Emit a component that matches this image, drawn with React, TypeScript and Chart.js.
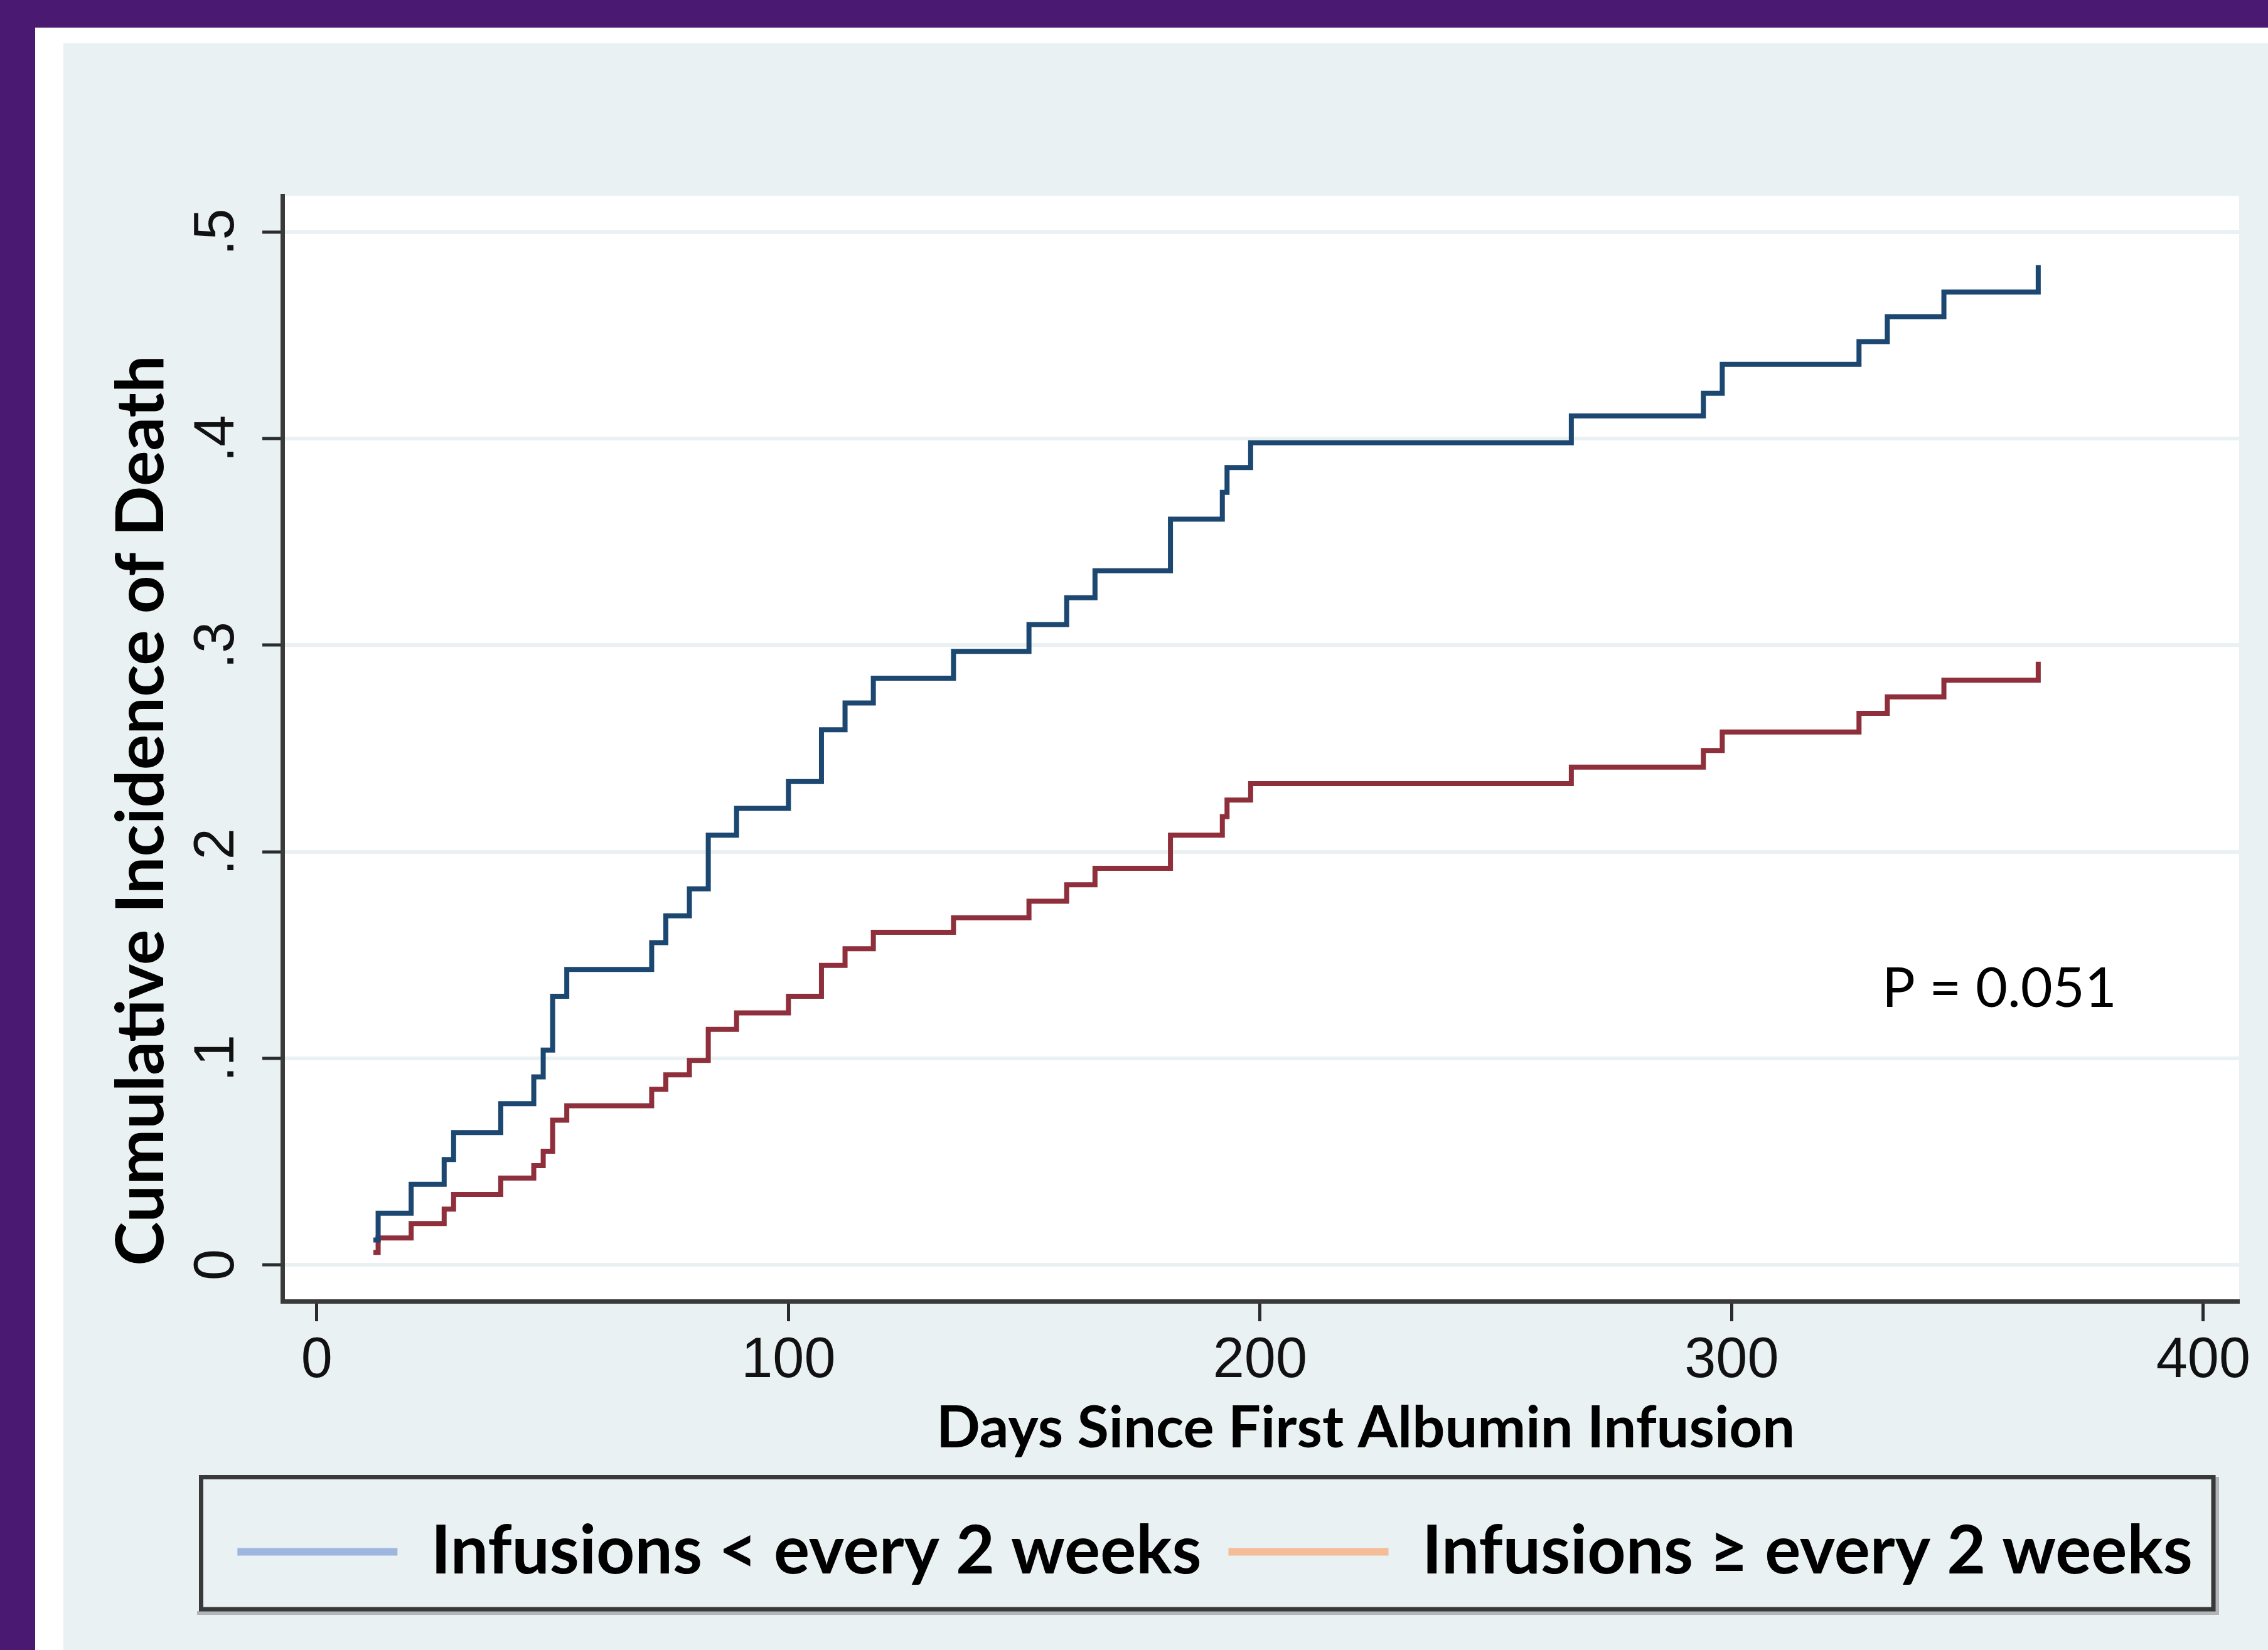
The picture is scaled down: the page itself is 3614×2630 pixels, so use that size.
import React, { useEffect, useRef } from "react";
import { Chart, registerables } from "chart.js";

Chart.register(...registerables);

// ---- Data ----
const eventDays = [
  12, 13, 20, 27, 29, 39, 46, 48, 50, 53,
  71, 74, 79, 83, 89, 100, 107, 112, 118, 135,
  151, 159, 165, 181, 192, 193, 198, 266, 294, 298,
  327, 333, 345, 365,
];
const incidenceLessFrequent = [
  0.012, 0.025, 0.039, 0.051, 0.064, 0.078, 0.091, 0.104, 0.13, 0.143,
  0.156, 0.169, 0.182, 0.208, 0.221, 0.234, 0.259, 0.272, 0.284, 0.297,
  0.31, 0.323, 0.336, 0.361, 0.374, 0.386, 0.398, 0.411, 0.422, 0.436,
  0.447, 0.459, 0.471, 0.484,
];
const incidenceMoreFrequent = [
  0.006, 0.013, 0.02, 0.027, 0.034, 0.042, 0.048, 0.055, 0.07, 0.077,
  0.085, 0.092, 0.099, 0.114, 0.122, 0.13, 0.145, 0.153, 0.161, 0.168,
  0.176, 0.184, 0.192, 0.208, 0.217, 0.225, 0.233, 0.241, 0.249, 0.258,
  0.267, 0.275, 0.283, 0.292,
];
const seriesLabels = ["Infusions < every 2 weeks", "Infusions \u2265 every 2 weeks"];
const xTickValues = [0, 100, 200, 300, 400];
const yTickValues = [0, 0.1, 0.2, 0.3, 0.4, 0.5];
const yTickLabels = ["0", ".1", ".2", ".3", ".4", ".5"];
const xTitleText = "Days Since First Albumin Infusion";
const yTitleText = "Cumulative Incidence of Death";
const pValueText = "P = 0.051";

// ---- Styles ----
const W = 3614;
const H = 2630;
const PURPLE = "#4A1A72";
const PANEL_BG = "#E9F1F2";
const GRID = "#EAF1F2";
const AXIS = "#3a3a3a";
const LINE_COLORS = ["#1C4770", "#8E2F3B"];
const LEGEND_COLORS = ["#9DB5DF", "#F4BC97"];
const TICK_FONT = { family: "'Liberation Sans', Arial, sans-serif", size: 90, lineHeight: 1.2 };

const decorPlugin = {
  id: "decor",
  beforeDraw(chart: any) {
    const { ctx, chartArea: a } = chart;
    ctx.save();
    ctx.fillStyle = "#ffffff";
    ctx.fillRect(a.left, a.top, a.right - a.left, a.bottom - a.top);
    ctx.restore();
  },
  afterDraw(chart: any) {
    const { ctx } = chart;
    ctx.save();
    // legend frame with light shadow
    ctx.strokeStyle = "#b0b5b7";
    ctx.lineWidth = 6;
    ctx.beginPath();
    ctx.moveTo(314, 2571);
    ctx.lineTo(3533, 2571);
    ctx.lineTo(3533, 2354);
    ctx.stroke();
    ctx.strokeStyle = "#393939";
    ctx.lineWidth = 7;
    ctx.strokeRect(320.5, 2354.5, 3206.5, 210.5);
    // axis titles and annotation
    ctx.fillStyle = "#000";
    ctx.textBaseline = "alphabetic";
    ctx.font = "bold 106px Lato, 'Open Sans', sans-serif";
    ctx.textAlign = "center";
    ctx.save();
    ctx.translate(260, 1292);
    ctx.rotate(-Math.PI / 2);
    ctx.fillText(yTitleText, 0, 0);
    ctx.restore();
    ctx.font = "bold 92px Lato, 'Open Sans', sans-serif";
    ctx.fillText(xTitleText, 2176, 2307);
    ctx.font = "88px Lato, 'Open Sans', sans-serif";
    ctx.textAlign = "left";
    ctx.fillText(pValueText, 2999, 1605);
    ctx.restore();
  },
};

export default function App() {
  const ref = useRef<HTMLCanvasElement | null>(null);

  useEffect(() => {
    const canvas = ref.current;
    if (!canvas) return;
    const chart = new Chart(canvas, {
      type: "line",
      data: {
        datasets: [
          {
            label: seriesLabels[0],
            data: eventDays.map((d, i) => ({ x: d, y: incidenceLessFrequent[i] })),
            borderColor: LINE_COLORS[0],
            backgroundColor: LEGEND_COLORS[0],
            borderWidth: 8,
            pointRadius: 0,
            stepped: true,
            fill: false,
          },
          {
            label: seriesLabels[1],
            data: eventDays.map((d, i) => ({ x: d, y: incidenceMoreFrequent[i] })),
            borderColor: LINE_COLORS[1],
            backgroundColor: LEGEND_COLORS[1],
            borderWidth: 8,
            pointRadius: 0,
            stepped: true,
            fill: false,
          },
        ],
      },
      options: {
        responsive: false,
        animation: false,
        events: [],
        devicePixelRatio: 1,
        layout: { padding: { left: 304, right: 46, top: 312, bottom: 93 } },
        plugins: {
          tooltip: { enabled: false },
          legend: {
            display: true,
            position: "bottom",
            labels: {
              font: { family: "Lato, 'Open Sans', sans-serif", weight: "bold", size: 107 },
              color: "#000",
              boxWidth: 255,
              boxHeight: 12,
              padding: 43,
              generateLabels: () =>
                seriesLabels.map((t, i) => ({
                  text: t,
                  fillStyle: LEGEND_COLORS[i],
                  strokeStyle: LEGEND_COLORS[i],
                  lineWidth: 0,
                  hidden: false,
                  datasetIndex: i,
                })),
            },
          },
        },
        scales: {
          x: {
            type: "linear",
            min: -7.3,
            max: 407.6,
            afterBuildTicks: (s: any) => {
              s.ticks = xTickValues.map((v) => ({ value: v }));
            },
            afterFit: (s: any) => {
              s.height = 303;
            },
            grid: {
              display: true,
              drawOnChartArea: false,
              drawTicks: true,
              tickLength: 32,
              tickWidth: 5,
              tickColor: "#2b2b2b",
            },
            border: { display: true, color: AXIS, width: 7 },
            ticks: {
              autoSkip: false,
              maxRotation: 0,
              minRotation: 0,
              padding: 10,
              color: "#111",
              font: TICK_FONT,
              callback: (v: any) => String(v),
            },
          },
          y: {
            type: "linear",
            min: -0.0176,
            max: 0.5176,
            afterBuildTicks: (s: any) => {
              s.ticks = yTickValues.map((v) => ({ value: v }));
            },
            afterFit: (s: any) => {
              s.width = 146;
            },
            grid: {
              display: true,
              drawOnChartArea: true,
              drawTicks: true,
              color: GRID,
              lineWidth: 6,
              tickLength: 32,
              tickWidth: 5,
              tickColor: "#2b2b2b",
            },
            border: { display: true, color: AXIS, width: 7 },
            ticks: {
              autoSkip: false,
              minRotation: 90,
              maxRotation: 90,
              crossAlign: "center",
              padding: 33,
              color: "#111",
              font: TICK_FONT,
              callback: (_v: any, i: number) => yTickLabels[i],
            },
          },
        },
      },
      plugins: [decorPlugin],
    } as any);
    return () => chart.destroy();
  }, []);

  return (
    <div
      style={{
        position: "fixed",
        left: 0,
        top: 0,
        width: W,
        height: H,
        background: PURPLE,
        overflow: "hidden",
      }}
    >
      <div style={{ position: "absolute", left: 56, top: 44, right: 0, bottom: 0, background: "#ffffff" }} />
      <div style={{ position: "absolute", left: 101, top: 69, right: 0, bottom: 0, background: PANEL_BG }} />
      <canvas
        ref={ref}
        width={W}
        height={H}
        style={{ position: "absolute", left: 0, top: 0, width: W, height: H }}
      />
    </div>
  );
}
